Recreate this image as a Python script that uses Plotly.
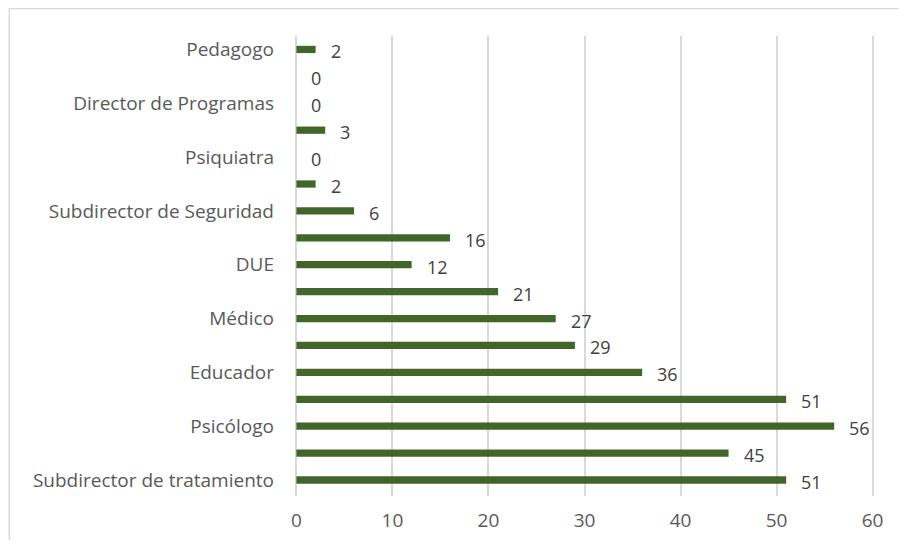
import plotly.graph_objects as go

# categories listed bottom to top (Excel only prints every other label)
categories = [
    "Subdirector de tratamiento", "Jurista", "Psicólogo", "Trabajador Social",
    "Educador", "Monitor Deportivo", "Médico", "Maestro", "DUE",
    "Monitor Ocupacional", "Subdirector de Seguridad", "Director",
    "Psiquiatra", "Subdirector de Régimen", "Director de Programas",
    "Terapeuta Ocupacional", "Pedagogo",
]
values = [51, 45, 56, 51, 36, 29, 27, 21, 12, 16, 6, 2, 0, 3, 0, 0, 2]
shown_labels = categories[::2]
x_ticks = [0, 10, 20, 30, 40, 50, 60]

bar_color = "#42662A"
font_family = "Open Sans, Noto Sans, sans-serif"

fig = go.Figure()
fig.add_trace(
    go.Bar(
        x=values,
        y=categories,
        orientation="h",
        width=0.27,
        marker=dict(color=bar_color, line=dict(width=0)),
        hoverinfo="x+y",
    )
)

# value labels to the right of each bar
for cat, val in zip(categories, values):
    fig.add_annotation(
        x=val, y=cat, text=str(val), showarrow=False,
        xanchor="left", yanchor="middle", xshift=13, yshift=-2,
        font=dict(size=18, color="#404040", family=font_family),
    )

# light outer chart border
fig.add_shape(
    type="rect", xref="paper", yref="paper",
    x0=-0.49, x1=1.3, y0=-0.4, y1=1.06,
    line=dict(color="#D9D9D9", width=1.5), fillcolor="rgba(0,0,0,0)",
    layer="below",
)

# page body adds an 8px margin, so the figure is sized to compensate
fig.update_layout(
    width=891,
    height=532,
    margin=dict(l=286, r=24, t=28, b=44),
    paper_bgcolor="white",
    plot_bgcolor="white",
    showlegend=False,
    font=dict(family=font_family, size=19, color="#595959"),
)

fig.update_xaxes(
    range=[-0.25, 60.25],
    tickvals=x_ticks,
    showgrid=True,
    gridcolor="#D9D9D9",
    gridwidth=1.5,
    zeroline=True,
    zerolinecolor="#D9D9D9",
    zerolinewidth=1.5,
    showline=False,
    ticks="",
    ticklabelstandoff=11,
    tickfont=dict(size=19, color="#595959"),
    automargin=False,
    fixedrange=True,
)

fig.update_yaxes(
    categoryorder="array",
    categoryarray=categories,
    tickmode="array",
    tickvals=shown_labels,
    ticktext=shown_labels,
    showgrid=False,
    zeroline=False,
    showline=False,
    ticks="",
    ticklabelstandoff=19,
    tickfont=dict(size=19, color="#595959"),
    automargin=False,
    fixedrange=True,
)

fig.write_html("out.html")
